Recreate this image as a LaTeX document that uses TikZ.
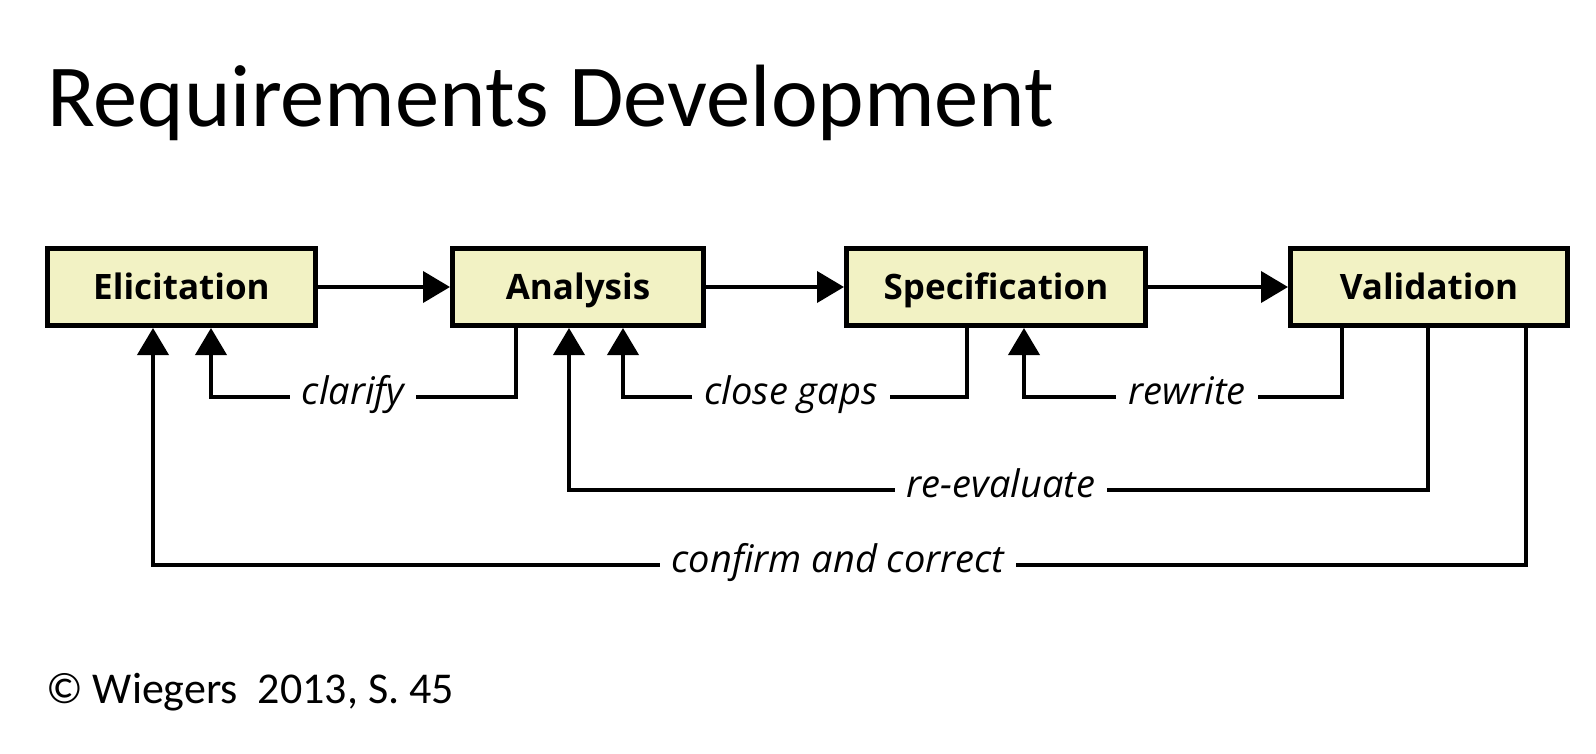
\documentclass[tikz,border=0pt]{standalone}
\usepackage{fontspec}
\setmainfont{Carlito}
\newfontfamily\segoe{Open Sans}
\usetikzlibrary{arrows.meta}
\definecolor{boxfill}{RGB}{242,242,196}

\begin{document}
\begin{tikzpicture}
[x=1pt,y=-1pt,>={Triangle[length=27pt,width=31pt]},
phase/.style={draw,line width=5pt,fill=boxfill,minimum height=77pt,inner sep=0pt,
  font=\segoe\bfseries\fontsize{35}{42}\selectfont,text height=25pt,text depth=0pt},
link/.style={line width=4pt},
lbl/.style={inner xsep=12pt,inner ysep=0pt,text height=14pt,text depth=0pt,
  font=\segoe\itshape\fontsize{38}{44}\selectfont},]

\useasboundingbox (0,0) rectangle (1596,754);

%Title and source
\node (title) at (47,127)[anchor=base west,inner sep=0pt,font=\fontsize{88.5}{100}\selectfont] {Requirements Development};
\node (src) at (46,703)[anchor=base west,inner sep=0pt,font=\fontsize{44}{52}\selectfont] {© Wiegers\ \ 2013, S. 45};

%Phases
\node (E) at (181.5,287)[phase,minimum width=268pt] {Elicitation};
\node (A) at (578,287)[phase,minimum width=251pt] {Analysis};
\node (S) at (996,287)[phase,minimum width=299pt] {Specification};
\node (V) at (1429,287)[phase,minimum width=277pt] {Validation};

%Forward flow
\draw[link,->] (E) -- (A);
\draw[link,->] (A) -- (S);
\draw[link,->] (S) -- (V);

%Feedback labels
\node (clar) at (353,397)[lbl] {clarify};
\node (gaps) at (791,397)[lbl] {close gaps};
\node (rewr) at (1187,397)[lbl] {rewrite};
\node (reev) at (1001,490)[lbl] {re-evaluate};
\node (conf) at (838,565)[lbl] {confirm and correct};

%Feedback loops
\draw[link] (A.south -| 516,0) |- (clar.east);
\draw[link,->] (clar.west) -| (E.south -| 211,0);
\draw[link] (S.south -| 967,0) |- (gaps.east);
\draw[link,->] (gaps.west) -| (A.south -| 623,0);
\draw[link] (V.south -| 1342,0) |- (rewr.east);
\draw[link,->] (rewr.west) -| (S.south -| 1024,0);
\draw[link] (V.south -| 1428,0) |- (reev.east);
\draw[link,->] (reev.west) -| (A.south -| 569,0);
\draw[link] (V.south -| 1526,0) |- (conf.east);
\draw[link,->] (conf.west) -| (E.south -| 153,0);

\end{tikzpicture}
\end{document}
